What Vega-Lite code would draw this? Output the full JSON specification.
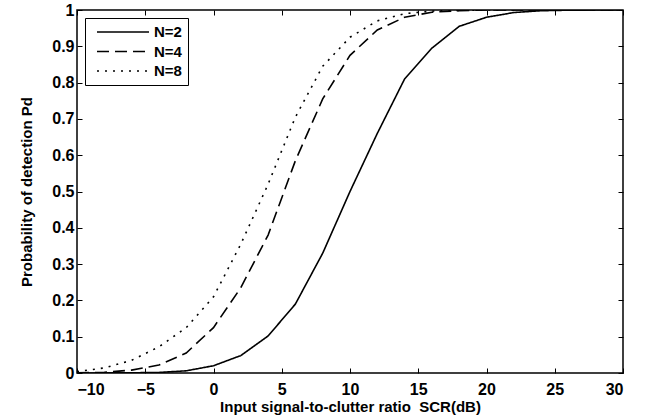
{
  "$schema": "https://vega.github.io/schema/vega-lite/v6.json",
  "width": 546,
  "height": 363,
  "autosize": {"type": "none"},
  "padding": {"left": 77, "top": 10, "right": 33, "bottom": 45},
  "background": "white",
  "config": {
    "font": "Liberation Sans",
    "view": {"stroke": "black", "strokeWidth": 1.5},
    "axis": {"grid": false, "domain": false, "labelFont": "Liberation Sans", "labelFontWeight": "bold", "labelFontSize": 16, "labelColor": "black", "titleFont": "Liberation Sans", "titleFontWeight": "bold", "titleFontSize": 15, "titleColor": "black", "tickColor": "black", "tickWidth": 1, "tickSize": -5}
  },
  "data": {"values": [
    {"snr": -10, "pd": 0.0, "N": "N=2"}, {"snr": -8, "pd": 0.0003, "N": "N=2"}, {"snr": -6, "pd": 0.0006, "N": "N=2"}, {"snr": -4, "pd": 0.0015, "N": "N=2"}, {"snr": -2, "pd": 0.006, "N": "N=2"}, {"snr": 0, "pd": 0.02, "N": "N=2"}, {"snr": 2, "pd": 0.048, "N": "N=2"}, {"snr": 4, "pd": 0.102, "N": "N=2"}, {"snr": 6, "pd": 0.19, "N": "N=2"}, {"snr": 8, "pd": 0.33, "N": "N=2"}, {"snr": 10, "pd": 0.5, "N": "N=2"}, {"snr": 12, "pd": 0.66, "N": "N=2"}, {"snr": 14, "pd": 0.81, "N": "N=2"}, {"snr": 16, "pd": 0.895, "N": "N=2"}, {"snr": 18, "pd": 0.955, "N": "N=2"}, {"snr": 20, "pd": 0.98, "N": "N=2"}, {"snr": 22, "pd": 0.993, "N": "N=2"}, {"snr": 24, "pd": 0.998, "N": "N=2"}, {"snr": 26, "pd": 0.9995, "N": "N=2"}, {"snr": 28, "pd": 1.0, "N": "N=2"}, {"snr": 30, "pd": 1.0, "N": "N=2"},
    {"snr": -10, "pd": 0.0005, "N": "N=4"}, {"snr": -8, "pd": 0.002, "N": "N=4"}, {"snr": -6, "pd": 0.008, "N": "N=4"}, {"snr": -4, "pd": 0.022, "N": "N=4"}, {"snr": -2, "pd": 0.055, "N": "N=4"}, {"snr": 0, "pd": 0.125, "N": "N=4"}, {"snr": 2, "pd": 0.235, "N": "N=4"}, {"snr": 4, "pd": 0.38, "N": "N=4"}, {"snr": 6, "pd": 0.585, "N": "N=4"}, {"snr": 8, "pd": 0.755, "N": "N=4"}, {"snr": 10, "pd": 0.875, "N": "N=4"}, {"snr": 12, "pd": 0.945, "N": "N=4"}, {"snr": 14, "pd": 0.98, "N": "N=4"}, {"snr": 16, "pd": 0.994, "N": "N=4"}, {"snr": 18, "pd": 0.998, "N": "N=4"}, {"snr": 20, "pd": 1.0, "N": "N=4"}, {"snr": 22, "pd": 1.0, "N": "N=4"}, {"snr": 24, "pd": 1.0, "N": "N=4"}, {"snr": 26, "pd": 1.0, "N": "N=4"}, {"snr": 28, "pd": 1.0, "N": "N=4"}, {"snr": 30, "pd": 1.0, "N": "N=4"},
    {"snr": -10, "pd": 0.004, "N": "N=8"}, {"snr": -8, "pd": 0.014, "N": "N=8"}, {"snr": -6, "pd": 0.035, "N": "N=8"}, {"snr": -4, "pd": 0.072, "N": "N=8"}, {"snr": -2, "pd": 0.125, "N": "N=8"}, {"snr": 0, "pd": 0.21, "N": "N=8"}, {"snr": 2, "pd": 0.355, "N": "N=8"}, {"snr": 4, "pd": 0.52, "N": "N=8"}, {"snr": 6, "pd": 0.705, "N": "N=8"}, {"snr": 8, "pd": 0.845, "N": "N=8"}, {"snr": 10, "pd": 0.925, "N": "N=8"}, {"snr": 12, "pd": 0.97, "N": "N=8"}, {"snr": 14, "pd": 0.99, "N": "N=8"}, {"snr": 16, "pd": 0.997, "N": "N=8"}, {"snr": 18, "pd": 0.999, "N": "N=8"}, {"snr": 20, "pd": 1.0, "N": "N=8"}, {"snr": 22, "pd": 1.0, "N": "N=8"}, {"snr": 24, "pd": 1.0, "N": "N=8"}, {"snr": 26, "pd": 1.0, "N": "N=8"}, {"snr": 28, "pd": 1.0, "N": "N=8"}, {"snr": 30, "pd": 1.0, "N": "N=8"}
  ]},
  "layer": [
    {
      "mark": {"type": "line", "color": "black", "strokeWidth": 1.6, "clip": true},
      "encoding": {
        "x": {"field": "snr", "type": "quantitative", "scale": {"domain": [-10, 30], "nice": false, "zero": false}, "axis": {"orient": "bottom", "values": [-10, -5, 0, 5, 10, 15, 20, 25, 30], "labelPadding": 13, "title": "Input signal-to-clutter ratio \u00a0SCR(dB)", "titlePadding": 2}},
        "y": {"field": "pd", "type": "quantitative", "scale": {"domain": [0, 1], "nice": false}, "axis": {"orient": "left", "values": [0, 0.1, 0.2, 0.3, 0.4, 0.5, 0.6, 0.7, 0.8, 0.9, 1], "format": "~g", "labelPadding": 8, "title": "Probability of detection Pd", "titlePadding": 17}},
        "strokeDash": {"field": "N", "type": "nominal", "scale": {"domain": ["N=2", "N=4", "N=8"], "range": [[1, 0], [12, 6], [2, 6]]},
          "legend": {"title": null, "orient": "none", "legendX": 8, "legendY": 8, "symbolType": "stroke", "symbolSize": 2704, "clipHeight": 16, "symbolOffset": 5, "symbolStrokeColor": "black", "symbolStrokeWidth": 1.6, "labelFontSize": 15, "labelFontWeight": "bold", "labelFont": "Liberation Sans", "labelColor": "black", "strokeColor": "black", "fillColor": "white", "padding": 6, "rowPadding": 3.5, "labelOffset": 4}}
      }
    },
    {
      "mark": {"type": "line", "opacity": 0},
      "encoding": {
        "x": {"field": "snr", "type": "quantitative", "scale": {"domain": [-10, 30], "nice": false, "zero": false}, "axis": {"orient": "top", "values": [-10, -5, 0, 5, 10, 15, 20, 25, 30], "labels": false, "title": null}},
        "y": {"field": "pd", "type": "quantitative", "scale": {"domain": [0, 1], "nice": false}, "axis": {"orient": "right", "values": [0, 0.1, 0.2, 0.3, 0.4, 0.5, 0.6, 0.7, 0.8, 0.9, 1], "labels": false, "title": null}}
      }
    }
  ],
  "resolve": {"axis": {"x": "independent", "y": "independent"}}
}
